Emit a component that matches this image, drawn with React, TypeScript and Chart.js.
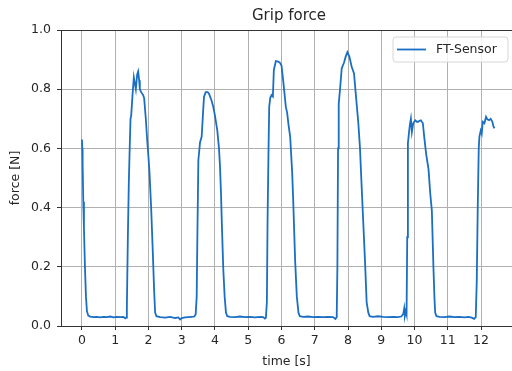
import React, { useEffect, useRef } from "react";
import { Chart, registerables } from "chart.js";

Chart.register(...registerables);

const TITLE = "Grip force";
const SERIES_LABEL = "FT-Sensor";
const X_LABEL = "time [s]";
const Y_LABEL = "force [N]";
const X_TICKS = [0, 1, 2, 3, 4, 5, 6, 7, 8, 9, 10, 11, 12];
const Y_TICKS = [0, 0.2, 0.4, 0.6, 0.8, 1.0];

const timeS = [
  0.0, 0.01, 0.02, 0.04, 0.06, 0.09, 0.12, 0.15, 0.19,
  0.25, 0.35, 0.45, 0.55, 0.65, 0.75, 0.85, 0.95, 1.05, 1.15, 1.25, 1.3, 1.33,
  1.35, 1.38, 1.41, 1.44, 1.46, 1.48, 1.52, 1.56, 1.59, 1.62, 1.66, 1.69, 1.72, 1.74, 1.78, 1.84, 1.87, 1.92, 1.96, 2.0, 2.03, 2.08, 2.13, 2.17, 2.2, 2.24,
  2.35, 2.5, 2.65, 2.8, 2.9, 2.95, 3.0, 3.1, 3.2, 3.3, 3.38, 3.42,
  3.45, 3.47, 3.5, 3.55, 3.6, 3.64, 3.67, 3.72, 3.78, 3.82, 3.87, 3.9, 3.95, 4.0, 4.07, 4.12, 4.15, 4.18, 4.21, 4.25, 4.29, 4.33, 4.37,
  4.45, 4.6, 4.75, 4.9, 5.05, 5.2, 5.35, 5.45, 5.5, 5.53,
  5.56, 5.58, 5.61, 5.63, 5.66, 5.7, 5.74, 5.77, 5.83, 5.9, 5.95, 6.0, 6.05, 6.13, 6.17, 6.21, 6.26, 6.32, 6.35, 6.41, 6.46, 6.51, 6.55,
  6.65, 6.8, 6.95, 7.1, 7.25, 7.4, 7.55, 7.62, 7.66,
  7.68, 7.7, 7.72, 7.76, 7.81, 7.88, 7.93, 7.98, 8.04, 8.11, 8.18, 8.24, 8.31, 8.36, 8.39, 8.45, 8.51, 8.56, 8.61, 8.65,
  8.75, 8.9, 9.05, 9.2, 9.35, 9.5, 9.6, 9.66, 9.69, 9.71, 9.74, 9.76,
  9.78, 9.8, 9.83, 9.86, 9.89, 9.92, 9.96, 10.02, 10.07, 10.11, 10.15, 10.19, 10.25, 10.29, 10.35, 10.42, 10.47, 10.52, 10.57, 10.6, 10.62, 10.66,
  10.75, 10.9, 11.05, 11.2, 11.35, 11.5, 11.62, 11.72, 11.79, 11.84,
  11.87, 11.9, 11.93, 11.95, 11.99, 12.02, 12.05, 12.1, 12.15, 12.19, 12.24, 12.29, 12.34, 12.37, 12.4,
];

const forceN = [
  0.63, 0.6, 0.55, 0.42, 0.33, 0.2, 0.1, 0.05, 0.035,
  0.032, 0.03, 0.031, 0.029, 0.031, 0.03, 0.032, 0.029, 0.031, 0.03, 0.031, 0.026, 0.028,
  0.06, 0.3, 0.49, 0.62, 0.7, 0.71, 0.78, 0.84, 0.82, 0.8, 0.85, 0.86, 0.83, 0.8, 0.79, 0.78, 0.77, 0.7, 0.63, 0.57, 0.52, 0.4, 0.25, 0.12, 0.045, 0.033,
  0.03, 0.028, 0.031, 0.027, 0.029, 0.022, 0.027, 0.029, 0.03, 0.031, 0.032, 0.04,
  0.1, 0.3, 0.56, 0.62, 0.64, 0.72, 0.775, 0.79, 0.79, 0.785, 0.77, 0.76, 0.74, 0.71, 0.66, 0.6, 0.54, 0.45, 0.33, 0.19, 0.1, 0.045, 0.033,
  0.031, 0.03, 0.032, 0.03, 0.031, 0.029, 0.031, 0.03, 0.025, 0.028,
  0.08, 0.35, 0.6, 0.74, 0.77, 0.78, 0.775, 0.865, 0.895, 0.893, 0.89, 0.88, 0.83, 0.74, 0.72, 0.68, 0.64, 0.52, 0.43, 0.22, 0.1, 0.045, 0.033,
  0.031, 0.032, 0.03, 0.031, 0.03, 0.031, 0.03, 0.024, 0.03,
  0.2, 0.6, 0.75, 0.8, 0.87, 0.89, 0.91, 0.925, 0.91, 0.876, 0.853, 0.775, 0.685, 0.6, 0.52, 0.37, 0.22, 0.08, 0.045, 0.033,
  0.031, 0.033, 0.031, 0.03, 0.031, 0.03, 0.032, 0.04, 0.06, 0.035, 0.05, 0.04,
  0.3, 0.617, 0.65, 0.68, 0.7, 0.656, 0.685, 0.695, 0.69, 0.69, 0.693, 0.695, 0.685, 0.64, 0.58, 0.53, 0.45, 0.39, 0.19, 0.09, 0.045, 0.033,
  0.031, 0.03, 0.032, 0.03, 0.031, 0.029, 0.031, 0.028, 0.024, 0.03,
  0.15, 0.4, 0.6, 0.64, 0.66, 0.65, 0.69, 0.685, 0.707, 0.698, 0.695, 0.7, 0.69, 0.675, 0.668,
];

const LINE_COLOR = "#1a6fc4";
const FONT = "'DejaVu Sans', sans-serif";
const TEXT_COLOR = "#262626";
const SPINE_COLOR = "#333333";
const GRID_COLOR = "#b0b0b0";

const overlayPlugin = {
  id: "overlay",
  afterDraw(chart: any) {
    const ctx = chart.ctx;
    const area = chart.chartArea;
    ctx.save();
    // title
    ctx.fillStyle = TEXT_COLOR;
    ctx.font = `15px ${FONT}`;
    ctx.textAlign = "center";
    ctx.textBaseline = "alphabetic";
    ctx.fillText(TITLE, 289, 19.5);
    // legend
    const bx = 393, by = 37, bw = 115, bh = 25, r = 3;
    ctx.beginPath();
    ctx.moveTo(bx + r, by);
    ctx.lineTo(bx + bw - r, by);
    ctx.quadraticCurveTo(bx + bw, by, bx + bw, by + r);
    ctx.lineTo(bx + bw, by + bh - r);
    ctx.quadraticCurveTo(bx + bw, by + bh, bx + bw - r, by + bh);
    ctx.lineTo(bx + r, by + bh);
    ctx.quadraticCurveTo(bx, by + bh, bx, by + bh - r);
    ctx.lineTo(bx, by + r);
    ctx.quadraticCurveTo(bx, by, bx + r, by);
    ctx.closePath();
    ctx.fillStyle = "rgba(255,255,255,0.8)";
    ctx.fill();
    ctx.strokeStyle = "#d6d6d6";
    ctx.lineWidth = 1;
    ctx.stroke();
    ctx.beginPath();
    ctx.moveTo(397, 49.5);
    ctx.lineTo(426, 49.5);
    ctx.strokeStyle = LINE_COLOR;
    ctx.lineWidth = 1.8;
    ctx.stroke();
    ctx.fillStyle = TEXT_COLOR;
    ctx.font = `12.5px ${FONT}`;
    ctx.textAlign = "left";
    ctx.textBaseline = "middle";
    ctx.fillText(SERIES_LABEL, 436, 50);
    // top spine
    ctx.beginPath();
    ctx.moveTo(area.left, area.top + 0.5);
    ctx.lineTo(area.right, area.top + 0.5);
    ctx.strokeStyle = SPINE_COLOR;
    ctx.lineWidth = 1;
    ctx.stroke();
    ctx.restore();
  },
};

export default function App() {
  const ref = useRef<HTMLCanvasElement | null>(null);
  useEffect(() => {
    if (!ref.current) return;
    const points = timeS.map((t, i) => ({ x: t, y: forceN[i] }));
    const chart = new Chart(ref.current, {
      type: "line",
      data: {
        datasets: [
          {
            label: SERIES_LABEL,
            data: points,
            borderColor: LINE_COLOR,
            backgroundColor: LINE_COLOR,
            borderWidth: 1.8,
            pointRadius: 0,
            tension: 0,
            fill: false,
          },
        ],
      },
      options: {
        animation: false,
        responsive: false,
        maintainAspectRatio: false,
        layout: { padding: { top: 30, left: 0, right: 0, bottom: 0 } },
        plugins: {
          legend: { display: false },
          title: { display: false },
          tooltip: { enabled: false },
        },
        scales: {
          x: {
            type: "linear",
            min: -0.63,
            max: 12.93,
            afterBuildTicks: (scale: any) => {
              scale.ticks = X_TICKS.map((v) => ({ value: v }));
            },
            afterFit: (scale: any) => {
              scale.height = 45;
            },
            ticks: {
              autoSkip: false,
              maxRotation: 0,
              padding: 3,
              color: TEXT_COLOR,
              font: { family: FONT, size: 12.5 },
              callback: (v: any) => String(v),
            },
            grid: {
              color: GRID_COLOR,
              lineWidth: 1,
              tickLength: 4,
              tickColor: SPINE_COLOR,
            },
            border: { display: true, color: SPINE_COLOR, width: 1 },
            title: {
              display: true,
              text: X_LABEL,
              color: TEXT_COLOR,
              font: { family: FONT, size: 12.5 },
              padding: { top: 0, bottom: 1.5 },
            },
          },
          y: {
            type: "linear",
            min: 0,
            max: 1,
            afterBuildTicks: (scale: any) => {
              scale.ticks = Y_TICKS.map((v) => ({ value: v }));
            },
            afterFit: (scale: any) => {
              scale.width = 61;
            },
            ticks: {
              padding: 6,
              color: TEXT_COLOR,
              font: { family: FONT, size: 12.5 },
              callback: (v: any) => Number(v).toFixed(1),
            },
            grid: {
              color: GRID_COLOR,
              lineWidth: 1,
              tickLength: 4,
              tickColor: SPINE_COLOR,
            },
            border: { display: true, color: SPINE_COLOR, width: 1 },
            title: {
              display: true,
              text: Y_LABEL,
              color: TEXT_COLOR,
              font: { family: FONT, size: 12.5 },
              padding: { top: 8.5, bottom: 0 },
            },
          },
        },
      },
      plugins: [overlayPlugin],
    });
    return () => chart.destroy();
  }, []);
  return (
    <div style={{ position: "fixed", left: 0, top: 0, width: 512, height: 371, overflow: "hidden", background: "#fff" }}>
      <canvas ref={ref} width={512} height={371} style={{ display: "block" }} />
    </div>
  );
}
